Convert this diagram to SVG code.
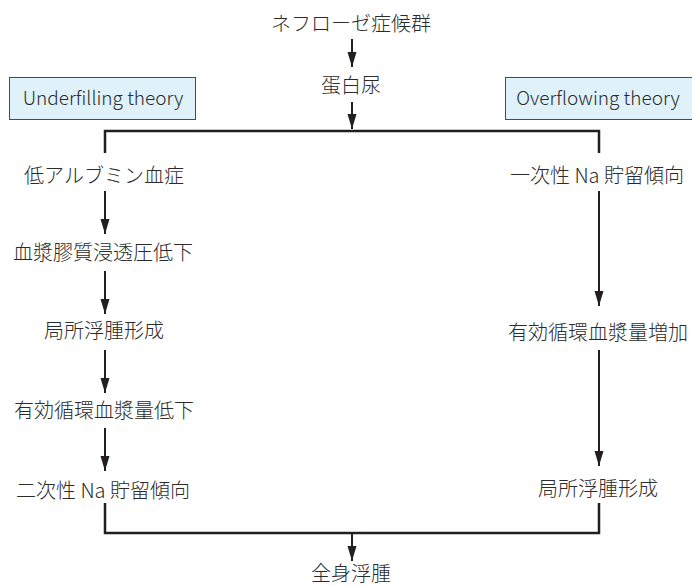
<svg xmlns="http://www.w3.org/2000/svg" width="692" height="586" viewBox="0 0 692 586">
<defs>
<marker id="ah" markerWidth="16" markerHeight="10" refX="15" refY="5" orient="auto" markerUnits="userSpaceOnUse" viewBox="0 0 16 10">
<path d="M0,0.5 L15,5 L0,9.5 Z" fill="#231f20"/>
</marker>
<style>
text{font-family:"Noto Sans CJK JP","Noto Sans",sans-serif;font-size:20px;font-weight:300;fill:#2b2b2b;text-anchor:middle}
.lbl{font-size:19px}
.box{fill:#dff2fa;stroke:#4a4a4a;stroke-width:1}
.br{stroke:#231f20;stroke-width:2.5;fill:none}
.ar{stroke:#231f20;stroke-width:2;fill:none;marker-end:url(#ah)}
</style>
</defs>
<rect width="692" height="586" fill="#ffffff"/>
<g id="connectors">
<path class="ar" d="M352,39 V67"/>
<path class="ar" d="M352,102 V129"/>
<path class="br" d="M105,153 V131 H599 V153"/>
<path class="ar" d="M105,191 V234"/>
<path class="ar" d="M105,271 V314"/>
<path class="ar" d="M105,350 V393"/>
<path class="ar" d="M105,428 V471"/>
<path class="ar" d="M599,191 V306"/>
<path class="ar" d="M599,350 V466"/>
<path class="br" d="M105,503 V533 H599 V503"/>
<path class="ar" d="M352,533 V561"/>
</g>
<g id="underfilling"><rect class="box" x="9.5" y="77.5" width="186" height="42"/><text class="lbl" x="103" y="105">Underfilling theory</text></g>
<g id="overflowing"><rect class="box" x="505.5" y="77.5" width="192" height="42"/><text class="lbl" x="598" y="105">Overflowing theory</text></g>
<g id="nephrotic"><text x="351" y="31">ネフローゼ症候群</text></g>
<g id="proteinuria"><text x="351" y="93">蛋白尿</text></g>
<g id="hypoalb"><text x="104" y="183">低アルブミン血症</text></g>
<g id="oncotic"><text x="103" y="260">血漿膠質浸透圧低下</text></g>
<g id="local-edema-l"><text x="104" y="338">局所浮腫形成</text></g>
<g id="ecv-low"><text x="104" y="418">有効循環血漿量低下</text></g>
<g id="na-secondary"><text x="103" y="498">二次性 Na 貯留傾向</text></g>
<g id="na-primary"><text x="597" y="183">一次性 Na 貯留傾向</text></g>
<g id="ecv-high"><text x="598" y="340">有効循環血漿量増加</text></g>
<g id="local-edema-r"><text x="598" y="496">局所浮腫形成</text></g>
<g id="general-edema"><text x="351" y="581">全身浮腫</text></g>
</svg>
